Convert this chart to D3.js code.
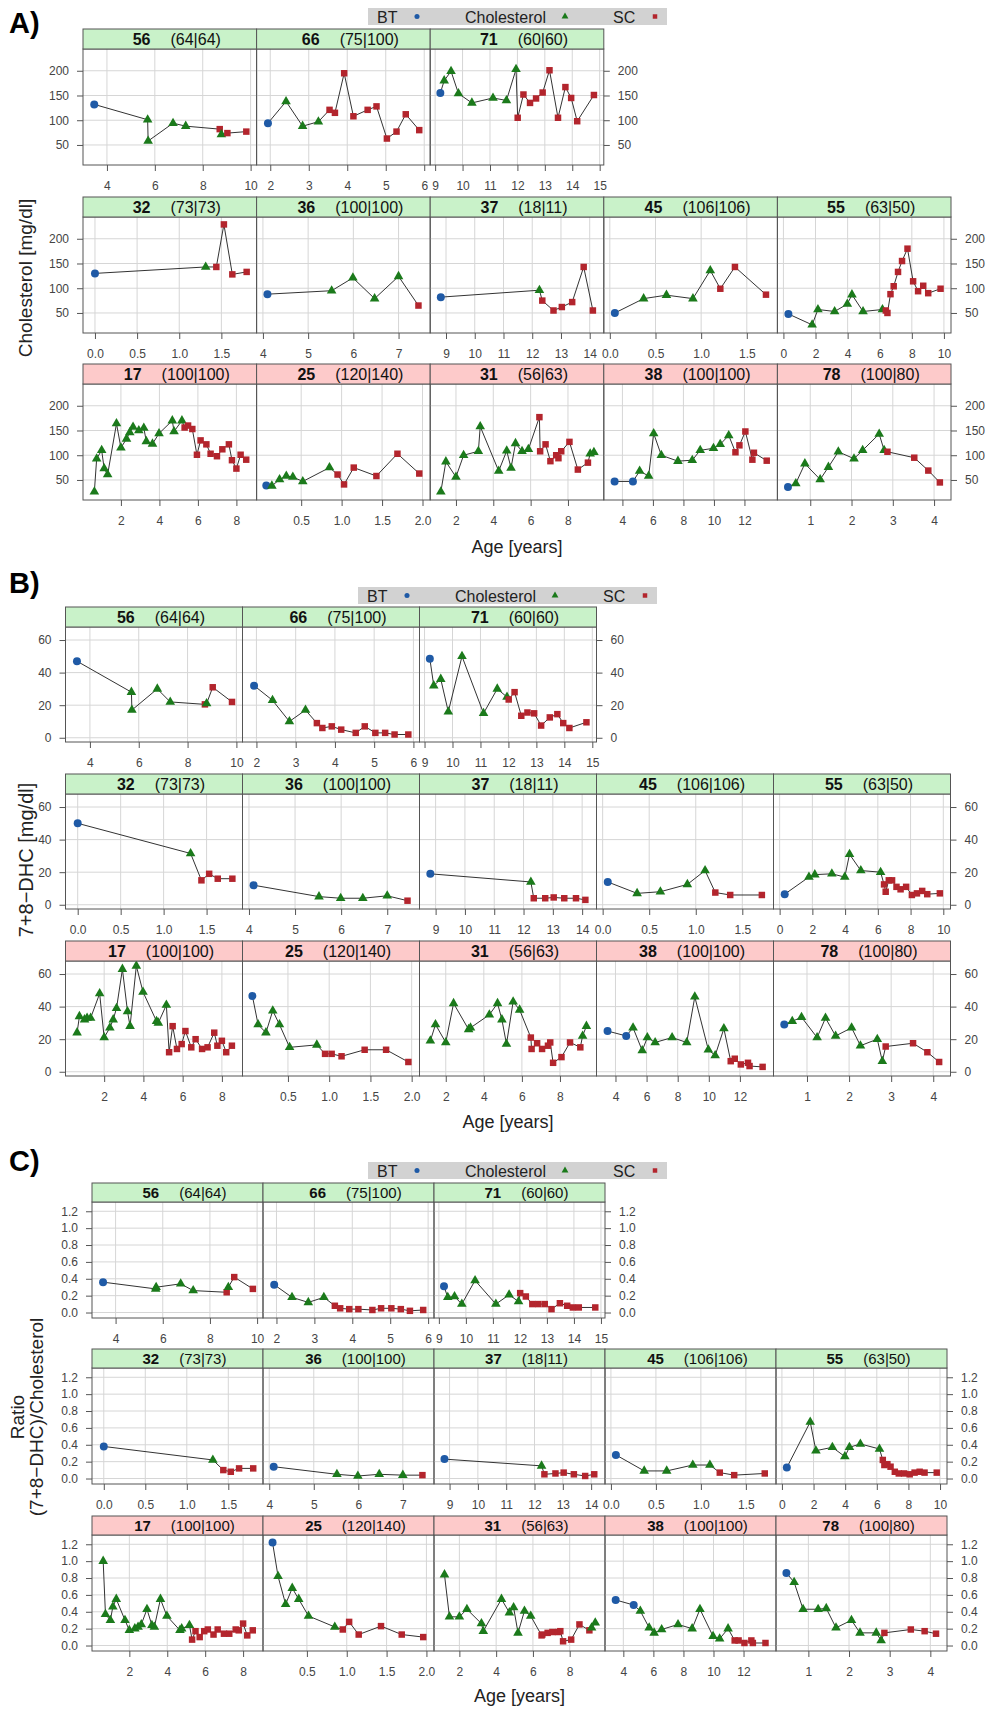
<!DOCTYPE html>
<html>
<head>
<meta charset="utf-8">
<script src="https://cdn.jsdelivr.net/npm/d3@7"></script>
<style>
  body { margin: 0; background: #fff; }
  svg { display: block; font-family: "Liberation Sans", Arial, Helvetica, sans-serif; }
</style>
</head>
<body>
<div id="chart"></div>
<script>
// subjects in panel order (3 on top row, then 5 and 5)
const subjects = ["56", "66", "71", "32", "36", "37", "45", "55", "17", "25", "31", "38", "78"];
const groups = ["(64|64)", "(75|100)", "(60|60)", "(73|73)", "(100|100)", "(18|11)", "(106|106)", "(63|50)",
                "(100|100)", "(120|140)", "(56|63)", "(100|100)", "(100|80)"];

const xDomains = [[3.0, 10.25], [1.645, 6.155], [8.82, 15.15], [-0.142, 1.918], [3.86, 7.70], [8.45, 14.49],
                  [-0.066, 1.835], [-0.375, 10.44], [0.03, 9.05], [-0.051, 2.095], [0.62, 9.92], [2.78, 14.16], [0.204, 4.41]];
const xTicks = [[4, 6, 8, 10], [2, 3, 4, 5, 6], [9, 10, 11, 12, 13, 14, 15], [0, 0.5, 1, 1.5], [4, 5, 6, 7],
                [9, 10, 11, 12, 13, 14], [0, 0.5, 1, 1.5], [0, 2, 4, 6, 8, 10], [2, 4, 6, 8], [0.5, 1, 1.5, 2],
                [2, 4, 6, 8], [4, 6, 8, 10, 12], [1, 2, 3, 4]];

// B = BT, C = Cholesterol, S = SC
const kinds = ["BCCCCSCSS", "BCCCSSSSSSSSSS", "BCCCCCCCSSSSSSSSSSS", "BCSSSS", "BCCCCS", "BCSSSSSS", "BCCCCSSS",
               "BCCCCCCCSSSSSSSSSSSS", "CCCCCCCCCCCCCCCCCCSSSSSSSSSSSSSS", "BCCCCCCSSSSSS",
               "CCCCCCCCCCCCSSSSSSSSSSCC", "BBCCCCCCCCCCSSSSSS", "BCCCCCCCCCSSSS"];

const ages = [
  [3.47, 5.70, 5.72, 6.76, 7.29, 8.71, 8.78, 9.03, 9.82],
  [1.94, 2.41, 2.84, 3.25, 3.54, 3.68, 3.92, 4.16, 4.53, 4.76, 5.03, 5.28, 5.52, 5.87],
  [9.19, 9.33, 9.58, 9.85, 10.34, 11.11, 11.6, 11.95, 12.01, 12.22, 12.46, 12.68, 12.92, 13.17, 13.48, 13.75, 13.96, 14.18, 14.79],
  [0.0, 1.314, 1.44, 1.53, 1.63, 1.80],
  [4.10, 5.52, 5.99, 6.47, 7.0, 7.44],
  [8.82, 12.25, 12.35, 12.74, 13.03, 13.39, 13.79, 14.11],
  [0.055, 0.37, 0.62, 0.91, 1.10, 1.21, 1.37, 1.71],
  [0.31, 1.79, 2.15, 3.19, 3.98, 4.27, 4.96, 6.17, 6.38, 6.48, 6.67, 6.87, 7.14, 7.39, 7.73, 8.08, 8.39, 8.71, 9.02, 9.79],
  [0.62, 0.74, 1.0, 1.13, 1.31, 1.77, 2.0, 2.29, 2.46, 2.63, 2.93, 3.19, 3.32, 3.64, 3.98, 4.67, 4.76, 5.17,
   5.31, 5.49, 5.71, 5.95, 6.14, 6.44, 6.66, 6.99, 7.27, 7.61, 7.77, 8.0, 8.22, 8.51],
  [0.069, 0.138, 0.233, 0.316, 0.397, 0.52, 0.85, 0.95, 1.03, 1.15, 1.43, 1.69, 1.96],
  [1.19, 1.46, 2.0, 2.41, 3.2, 3.3, 4.29, 4.72, 4.95, 5.19, 5.54, 5.88, 6.47, 6.51, 6.8, 7.06, 7.37, 7.49, 7.64, 8.08, 8.53, 9.07, 9.19, 9.39],
  [3.49, 4.69, 5.13, 5.72, 6.05, 6.55, 7.64, 8.58, 9.1, 9.97, 10.41, 10.97, 11.41, 11.67, 12.06, 12.52, 12.62, 13.46],
  [0.46, 0.65, 0.87, 1.24, 1.44, 1.68, 2.06, 2.27, 2.67, 2.79, 2.87, 3.52, 3.86, 4.14]
];

const cholesterol = [
  [132, 101, 58, 94, 88, 82, 71, 74, 77],
  [94, 138, 88, 97, 121, 115, 195, 108, 121, 128, 63, 77, 112, 80],
  [155, 180, 199, 154, 135, 145, 140, 203, 105, 152, 135, 144, 156, 201, 105, 167, 145, 98, 151],
  [130, 143, 143, 229, 128, 133],
  [88, 95, 121, 79, 124, 65],
  [82, 96, 75, 55, 62, 72, 143, 55],
  [50, 79, 86, 79, 136, 99, 143, 87],
  [48, 26, 57, 53, 68, 87, 53, 57, 55, 50, 88, 104, 133, 155, 180, 114, 94, 105, 90, 99],
  [26, 93, 110, 73, 61, 164, 115, 133, 146, 157, 150, 155, 128, 123, 144, 170, 148, 170,
   156, 160, 153, 101, 130, 122, 103, 98, 112, 122, 90, 73, 101, 91],
  [39, 38, 51, 58, 56, 47, 75, 61, 41, 75, 58, 103, 63],
  [26, 87, 56, 100, 108, 158, 68, 109, 74, 124, 108, 112, 177, 108, 122, 88, 100, 94, 108, 127, 71, 85, 103, 106],
  [47, 47, 68, 58, 144, 100, 88, 90, 110, 114, 122, 140, 106, 120, 148, 91, 105, 89],
  [36, 43, 83, 51, 76, 107, 93, 110, 143, 110, 107, 95, 69, 45]
];

const dhc = [
  [47, 28, 17, 30, 22, 20.5, 21, 31, 22],
  [32, 23, 10, 17, 9, 6, 7, 5, 3, 7, 3, 3, 2, 2],
  [48.5, 32, 36, 16, 50, 15, 30, 25, 23.5, 28, 13.5, 15.5, 15, 7.5, 12.5, 14.5, 9, 6, 9.5],
  [50, 31.5, 15, 19, 16, 16],
  [12, 5, 4, 4, 5.5, 2.5],
  [19, 14, 4, 4, 4.5, 4, 4, 3],
  [14, 7, 8, 12.5, 21, 7.5, 6, 6],
  [6.5, 17, 18.5, 19, 17, 31, 21, 20, 12.5, 8, 15, 15, 11, 9.5, 11, 6, 7, 8.5, 6.5, 7],
  [24, 34, 32, 33, 33, 48, 21, 27, 32, 39, 63, 37, 28, 65, 49, 31, 30, 41,
   12, 28, 14, 17, 25, 15, 20, 14, 15, 24, 16, 19, 12, 16],
  [46.5, 29, 24, 37.5, 29, 15, 16.5, 11, 11, 9.5, 13.5, 13.5, 6],
  [19, 29, 18, 42, 26, 27, 35, 42, 32, 17, 43, 38, 21, 14, 17.5, 14, 16, 18, 5.5, 9, 18, 15, 22, 28],
  [25, 22, 27, 13, 21, 18, 21, 18, 46, 13.5, 10, 26.5, 6.5, 8, 4.5, 5.5, 3.5, 3],
  [29, 31, 33.5, 21, 33, 22, 27, 16, 20, 6.5, 15.5, 17.5, 12, 6]
];

const ratio = [
  [0.36, 0.28, 0.30, 0.34, 0.26, 0.24, 0.30, 0.42, 0.28],
  [0.33, 0.18, 0.12, 0.18, 0.08, 0.05, 0.04, 0.04, 0.03, 0.05, 0.05, 0.04, 0.02, 0.03],
  [0.31, 0.18, 0.19, 0.10, 0.38, 0.10, 0.21, 0.13, 0.23, 0.19, 0.10, 0.10, 0.10, 0.04, 0.11, 0.08, 0.06, 0.06, 0.06],
  [0.38, 0.22, 0.10, 0.08, 0.12, 0.12],
  [0.14, 0.05, 0.03, 0.05, 0.04, 0.04],
  [0.23, 0.15, 0.05, 0.06, 0.07, 0.05, 0.03, 0.05],
  [0.28, 0.09, 0.09, 0.16, 0.16, 0.07, 0.04, 0.06],
  [0.13, 0.67, 0.33, 0.37, 0.26, 0.37, 0.41, 0.35, 0.22, 0.16, 0.17, 0.14, 0.08, 0.06, 0.06, 0.05, 0.07, 0.08, 0.07, 0.07],
  [1.0, 0.37, 0.30, 0.46, 0.55, 0.30, 0.18, 0.20, 0.22, 0.25, 0.43, 0.24, 0.22, 0.55, 0.35, 0.18, 0.20, 0.24,
   0.07, 0.17, 0.10, 0.17, 0.19, 0.13, 0.19, 0.14, 0.14, 0.19, 0.18, 0.26, 0.12, 0.18],
  [1.22, 0.82, 0.49, 0.68, 0.55, 0.35, 0.22, 0.19, 0.28, 0.13, 0.23, 0.13, 0.10],
  [0.84, 0.34, 0.34, 0.43, 0.26, 0.17, 0.55, 0.39, 0.45, 0.15, 0.41, 0.35, 0.12, 0.13, 0.15, 0.16, 0.16, 0.17, 0.05, 0.07, 0.25, 0.18, 0.21, 0.27],
  [0.54, 0.48, 0.41, 0.21, 0.15, 0.19, 0.25, 0.20, 0.43, 0.11, 0.08, 0.20, 0.06, 0.06, 0.03, 0.06, 0.03, 0.03],
  [0.86, 0.75, 0.43, 0.43, 0.44, 0.21, 0.30, 0.15, 0.15, 0.06, 0.15, 0.19, 0.17, 0.14]
];

const legendNames = ["BT", "Cholesterol", "SC"];
const legendKinds = ["B", "C", "S"];

const colors = {B: "#1f5aa6", C: "#1b7a1b", S: "#b3252d"};
const shapes = {B: d3.symbolCircle, C: d3.symbolTriangle, S: d3.symbolSquare};
const sizes = {B: 50, C: 40, S: 42};

// layout of the three figures
const figures = [
  {label: "A)", labelY: 33, legendX: 368, legendY: 8, values: cholesterol,
   yDomain: [9.5, 244], yTicks: [50, 100, 150, 200], yFmt: d3.format("d"),
   x0: 83, pw: 173.6, stripTops: [29, 197, 364], stripH: 20, plotH: 116,
   ylab: [{t: "Cholesterol [mg/dl]", x: 32}], ylabY: 278, ylabSize: 19, xlabY: 553},
  {label: "B)", labelY: 593, legendX: 358, legendY: 587, values: dhc,
   yDomain: [-2.6, 68], yTicks: [0, 20, 40, 60], yFmt: d3.format("d"),
   x0: 65.5, pw: 177, stripTops: [607, 774, 941], stripH: 20, plotH: 115,
   ylab: [{t: "7+8\u2212DHC [mg/dl]", x: 33}], ylabY: 860, ylabSize: 20, xlabY: 1128},
  {label: "C)", labelY: 1171, legendX: 368, legendY: 1162, values: ratio,
   yDomain: [-0.065, 1.31], yTicks: [0, 0.2, 0.4, 0.6, 0.8, 1.0, 1.2], yFmt: d3.format(".1f"),
   x0: 92, pw: 171, stripTops: [1183, 1349, 1516], stripH: 19, plotH: 116,
   ylab: [{t: "Ratio", x: 24}, {t: "(7+8\u2212DHC)/Cholesterol", x: 43}], ylabY: 1417, ylabSize: 19, xlabY: 1702}
];

const svg = d3.select("#chart").append("svg")
    .attr("width", 992)
    .attr("height", 1711);

svg.append("rect").attr("width", 992).attr("height", 1711).attr("fill", "#fff");

function drawFigure(cfg) {
  const g = svg.append("g");

  g.append("text")
      .attr("x", 9).attr("y", cfg.labelY)
      .attr("font-size", 29).attr("font-weight", "bold")
      .text(cfg.label);

  // legend on top
  const leg = g.append("g").attr("transform", "translate(" + cfg.legendX + "," + cfg.legendY + ")");
  leg.append("rect").attr("width", 299).attr("height", 17).attr("fill", "#d2d2d2");
  const textX = [9, 97, 245], symX = [49, 197, 287];
  legendNames.forEach(function(name, k) {
    leg.append("text").attr("x", textX[k]).attr("y", 14.5)
        .attr("font-size", 16).attr("fill", "#222").text(name);
    leg.append("path")
        .attr("transform", "translate(" + symX[k] + ",8.5)")
        .attr("d", d3.symbol().type(shapes[legendKinds[k]]).size(20)())
        .attr("fill", colors[legendKinds[k]]);
  });

  subjects.forEach(function(id, i) {
    const row = i < 3 ? 0 : (i < 8 ? 1 : 2);
    const col = i < 3 ? i : (i < 8 ? i - 3 : i - 8);
    const ncol = row === 0 ? 3 : 5;
    const left = cfg.x0 + col * cfg.pw;
    const top = cfg.stripTops[row] + cfg.stripH;
    const bottom = top + cfg.plotH;

    const x = d3.scaleLinear().domain(xDomains[i]).range([left, left + cfg.pw]);
    const y = d3.scaleLinear().domain(cfg.yDomain).range([bottom, top]);

    const p = g.append("g");

    // grid
    p.selectAll(".gx").data(xTicks[i]).join("line")
        .attr("x1", d => x(d)).attr("x2", d => x(d))
        .attr("y1", top).attr("y2", bottom)
        .attr("stroke", "#d6d6d6").attr("stroke-width", 1);
    p.selectAll(".gy").data(cfg.yTicks).join("line")
        .attr("x1", left).attr("x2", left + cfg.pw)
        .attr("y1", d => y(d)).attr("y2", d => y(d))
        .attr("stroke", "#d6d6d6").attr("stroke-width", 1);

    // x axis of this panel
    const fmt = xTicks[i].some(v => v % 1 !== 0) ? d3.format(".1f") : d3.format("d");
    const ax = p.append("g")
        .attr("transform", "translate(0," + bottom + ")")
        .call(d3.axisBottom(x).tickValues(xTicks[i]).tickSize(6).tickPadding(10).tickFormat(fmt));
    ax.select(".domain").remove();
    ax.selectAll("line").attr("stroke", "#555");
    ax.selectAll("text").attr("font-size", 12).attr("fill", "#444")
        .attr("font-family", "Liberation Sans, Arial, sans-serif");

    // y axes on the outer left and right of each row
    if (col === 0) {
      const ay = p.append("g").attr("transform", "translate(" + left + ",0)")
          .call(d3.axisLeft(y).tickValues(cfg.yTicks).tickSize(6).tickPadding(8).tickFormat(cfg.yFmt));
      ay.select(".domain").remove();
      ay.selectAll("line").attr("stroke", "#555");
      ay.selectAll("text").attr("font-size", 12).attr("fill", "#444")
          .attr("font-family", "Liberation Sans, Arial, sans-serif");
    }
    if (col === ncol - 1) {
      const ay = p.append("g").attr("transform", "translate(" + (left + cfg.pw) + ",0)")
          .call(d3.axisRight(y).tickValues(cfg.yTicks).tickSize(6).tickPadding(8).tickFormat(cfg.yFmt));
      ay.select(".domain").remove();
      ay.selectAll("line").attr("stroke", "#555");
      ay.selectAll("text").attr("font-size", 12).attr("fill", "#444")
          .attr("font-family", "Liberation Sans, Arial, sans-serif");
    }

    // panel border
    p.append("rect")
        .attr("x", left).attr("y", top)
        .attr("width", cfg.pw).attr("height", cfg.plotH)
        .attr("fill", "none").attr("stroke", "#555").attr("stroke-width", 1);

    // data of the subject
    const pts = ages[i].map((a, k) => ({age: a, v: cfg.values[i][k], kind: kinds[i][k]}));

    p.append("path")
        .datum(pts)
        .attr("fill", "none")
        .attr("stroke", "#333")
        .attr("stroke-width", 1)
        .attr("d", d3.line().x(d => x(d.age)).y(d => y(d.v)));

    p.selectAll(".pt").data(pts).join("path")
        .attr("transform", d => "translate(" + x(d.age) + "," + y(d.v) + ")")
        .attr("d", d => d3.symbol().type(shapes[d.kind]).size(sizes[d.kind])())
        .attr("fill", d => colors[d.kind]);

    // strip
    const st = cfg.stripTops[row];
    p.append("rect")
        .attr("x", left).attr("y", st)
        .attr("width", cfg.pw).attr("height", cfg.stripH)
        .attr("fill", row === 2 ? "#fdcaca" : "#c9f2c9")
        .attr("stroke", "#555").attr("stroke-width", 1);
    const tx = p.append("text")
        .attr("x", left + cfg.pw / 2 + 7)
        .attr("y", st + cfg.stripH - 4.5)
        .attr("text-anchor", "middle")
        .attr("font-size", cfg.stripH > 19 ? 16 : 15)
        .attr("fill", "#111");
    tx.append("tspan").attr("font-weight", "bold").text(id);
    tx.append("tspan").attr("dx", 20).text(groups[i]);
  });

  // axis titles
  cfg.ylab.forEach(function(l) {
    g.append("text")
        .attr("transform", "translate(" + l.x + "," + cfg.ylabY + ") rotate(-90)")
        .attr("text-anchor", "middle")
        .attr("font-size", cfg.ylabSize)
        .attr("fill", "#222")
        .text(l.t);
  });
  const xEnd = cfg.x0 + 5 * cfg.pw;
  g.append("text")
      .attr("x", (cfg.x0 + xEnd) / 2)
      .attr("y", cfg.xlabY)
      .attr("text-anchor", "middle")
      .attr("font-size", 18)
      .attr("fill", "#222")
      .text("Age [years]");
}

figures.forEach(drawFigure);
</script>
</body>
</html>
